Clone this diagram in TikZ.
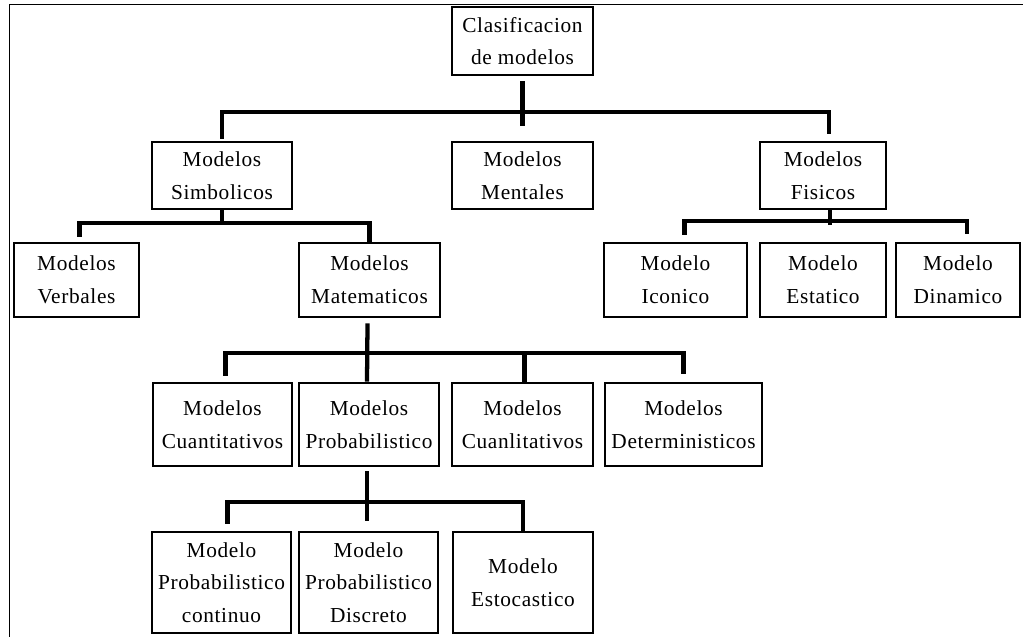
\documentclass[tikz,border=0pt]{standalone}
\usepackage{fontspec}
\setmainfont[LetterSpace=3]{Liberation Serif}
\begin{document}
% one unit = one pixel, y grows downwards
\begin{tikzpicture}[x=0.75pt,y=-0.75pt,
  mbx/.style={draw=black,line width=2pt,fill=white,align=center,inner sep=0pt,
    font=\fontsize{16pt}{24.5pt}\selectfont},
  conn/.style={draw=black,line width=3.2pt,line join=miter,line cap=butt}]
\useasboundingbox (0,0) rectangle (1023,636);
% outer frame
\draw[line width=1.1pt] (9.5,640) -- (9.5,4.5) -- (1030,4.5);

% box macro: name, x1, y1, x2, y2, text
\newcommand\treebox[6]{%
  \pgfmathsetmacro\bw{(#4-#2)*0.75}%
  \pgfmathsetmacro\bh{(#5-#3)*0.75}%
  \node[mbx,minimum width=\bw pt,minimum height=\bh pt] (#1) at ({(#2+#4)/2},{(#3+#5)/2}) {#6};}

\treebox{root}{452}{7}{593}{75}{Clasificacion\\de modelos}
\treebox{simb}{152}{142}{292}{209}{Modelos\\Simbolicos}
\treebox{ment}{452}{142}{593}{209}{Modelos\\Mentales}
\treebox{fis}{760}{142}{886}{209}{Modelos\\Fisicos}
\treebox{verb}{14}{243}{139}{317}{Modelos\\Verbales}
\treebox{mat}{299}{243}{440}{317}{Modelos\\Matematicos}
\treebox{icon}{604}{243}{747}{317}{Modelo\\Iconico}
\treebox{estat}{760}{243}{886}{317}{Modelo\\Estatico}
\treebox{dinam}{896}{243}{1020}{317}{Modelo\\Dinamico}
\treebox{cuant}{153}{383}{292}{466}{Modelos\\Cuantitativos}
\treebox{prob}{299}{383}{439}{466}{Modelos\\Probabilistico}
\treebox{cual}{452}{383}{593}{466}{Modelos\\Cuanlitativos}
\treebox{deter}{605}{383}{762}{466}{Modelos\\Deterministicos}
\treebox{pcont}{152}{532}{291}{633}{Modelo\\Probabilistico\\continuo}
\treebox{pdisc}{299}{532}{438}{633}{Modelo\\Probabilistico\\Discreto}
\treebox{estoc}{453}{532}{593}{633}{Modelo\\Estocastico}

% bar levels
\coordinate (barA) at (0,112);
\coordinate (barB) at (0,223);
\coordinate (barC) at (0,221);
\coordinate (barD) at (0,353);
\coordinate (barE) at (0,502);

% root level
\draw[conn] ([shift={(0,5)}]root.south) -- ([shift={(0,-15)}]ment.north);
\draw[conn] ([shift={(0,-2)}]simb.north) -- (simb.north |- barA)
  -- ([shift={(6,0)}]fis.north |- barA) -- ([shift={(6,-7)}]fis.north);

% Simbolicos level
\draw[conn] (simb.south) -- (simb.south |- barB);
\draw[conn] ([shift={(3,-5)}]verb.north) -- ([shift={(3,0)}]verb.north |- barB)
  -- (mat.north |- barB) -- (mat.north);

% Fisicos level
\draw[conn] ([shift={(7,0)}]fis.south) -- ([shift={(7,15)}]fis.south);
\draw[conn] ([shift={(9,-7)}]icon.north) -- ([shift={(9,0)}]icon.north |- barC)
  -- ([shift={(9,0)}]dinam.north |- barC) -- ([shift={(9,-8)}]dinam.north);

% Matematicos level
\draw[conn] ([shift={(-2,5)}]mat.south) -- ([shift={(-2,0)}]prob.north);
\draw[conn] ([shift={(3,-6)}]cuant.north) -- ([shift={(3,0)}]cuant.north |- barD)
  -- (deter.north |- barD) -- ([shift={(0,-8)}]deter.north);
\draw[conn] ([shift={(2,0)}]cual.north |- barD) -- ([shift={(2,0)}]cual.north);

% Probabilistico level
\draw[conn] ([shift={(-2,4)}]prob.south) -- ([shift={(-2,54)}]prob.south);
\draw[conn] ([shift={(6,-7)}]pcont.north) -- ([shift={(6,0)}]pcont.north |- barE)
  -- (estoc.north |- barE) -- (estoc.north);
\end{tikzpicture}
\end{document}
